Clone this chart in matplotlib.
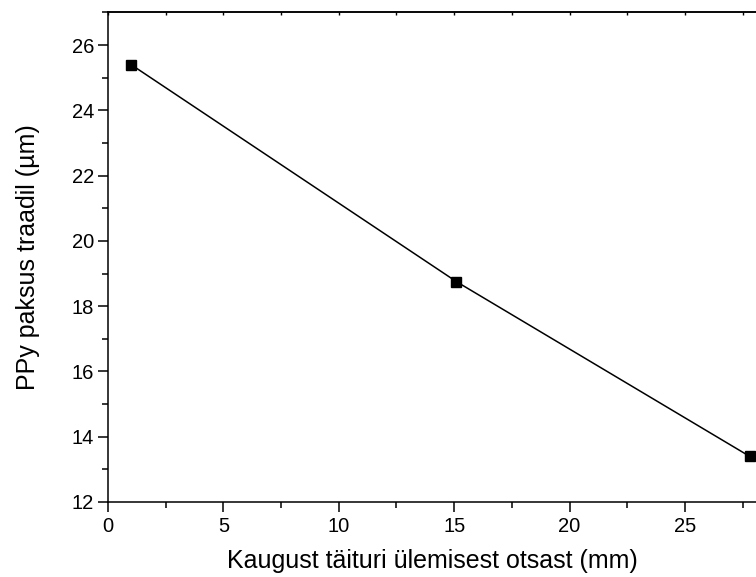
import matplotlib
matplotlib.use('Agg')
import matplotlib.pyplot as plt
from matplotlib.ticker import MultipleLocator

# distance from the top end of the filler (mm) vs PPy fibre thickness (um)
distance = [1.0, 15.1, 27.8]
thickness = [25.4, 18.75, 13.4]

plt.rcParams['font.family'] = ['Liberation Sans', 'DejaVu Sans']

fig = plt.figure(figsize=(7.56, 5.77), dpi=100)
# plot area is cut off by the right edge of the figure
ax = fig.add_axes([0.1429, 0.1300, 0.8571, 0.8485])

ax.plot(distance, thickness, color='black', lw=1.1,
        marker='s', markersize=7.5, markerfacecolor='black', markeredgecolor='black',
        clip_on=False)

ax.set_xlim(0, 28.08)
ax.set_ylim(12, 27)
ax.xaxis.set_major_locator(MultipleLocator(5))
ax.xaxis.set_minor_locator(MultipleLocator(2.5))
ax.yaxis.set_major_locator(MultipleLocator(2))
ax.yaxis.set_minor_locator(MultipleLocator(1))

ax.tick_params(which='major', direction='out', length=7, width=1.1, labelsize=14.5, pad=3)
ax.tick_params(which='minor', direction='out', length=4, width=1.1)
ax.tick_params(axis='x', which='major', pad=4)

# tiny marks along the top spine
top = ax.secondary_xaxis('top')
top.xaxis.set_major_locator(MultipleLocator(2.5))
top.tick_params(direction='in', length=2, width=1, labeltop=False)
top.spines['top'].set_linewidth(1.1)

ax.spines['right'].set_visible(False)
for name in ('left', 'bottom', 'top'):
    ax.spines[name].set_linewidth(1.1)

ax.set_xlabel('Kaugust täituri ülemisest otsast (mm)', fontsize=18, labelpad=9)
ax.set_ylabel('PPy paksus traadil (µm)', fontsize=18, labelpad=23)

fig.savefig('out.png', dpi=100)
